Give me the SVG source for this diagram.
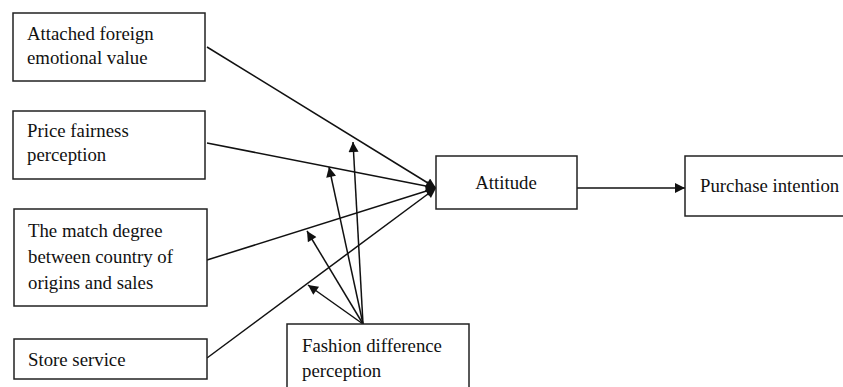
<svg xmlns="http://www.w3.org/2000/svg" width="843" height="387" viewBox="0 0 843 387">
<style>
.box{fill:#fff;stroke:#222;stroke-width:1.5}
.t{font-family:"Liberation Serif","Times New Roman",serif;font-size:18.8px;fill:#111}
.ln{stroke:#111;stroke-width:1.5;fill:none}
</style>
<defs>
<marker id="ah" viewBox="0 0 10 10" refX="10" refY="5" markerWidth="12" markerHeight="10" markerUnits="userSpaceOnUse" orient="auto">
<path d="M0,0 L10,5 L0,10 Z" fill="#111"/>
</marker>
</defs>
<rect width="843" height="387" fill="#fff"/>
<g id="connectors">
<line class="ln" x1="207" y1="47" x2="436" y2="188" marker-end="url(#ah)"/>
<line class="ln" x1="207" y1="143" x2="436" y2="188" marker-end="url(#ah)"/>
<line class="ln" x1="207" y1="260" x2="436" y2="188" marker-end="url(#ah)"/>
<line class="ln" x1="207" y1="358" x2="436" y2="188" marker-end="url(#ah)"/>
<line class="ln" x1="577" y1="188" x2="685" y2="188" marker-end="url(#ah)"/>
<line class="ln" x1="363" y1="324" x2="353" y2="142" marker-end="url(#ah)"/>
<line class="ln" x1="363" y1="324" x2="329" y2="167" marker-end="url(#ah)"/>
<line class="ln" x1="363" y1="324" x2="307" y2="231" marker-end="url(#ah)"/>
<line class="ln" x1="363" y1="324" x2="308" y2="285" marker-end="url(#ah)"/>
</g>
<g id="n1"><rect class="box" x="13" y="13" width="192" height="68"/><text class="t" x="27" y="40">Attached foreign</text><text class="t" x="27" y="64">emotional value</text></g>
<g id="n2"><rect class="box" x="13" y="111" width="192" height="68"/><text class="t" x="27" y="137">Price fairness</text><text class="t" x="27" y="161">perception</text></g>
<g id="n3"><rect class="box" x="14" y="209" width="193" height="97"/><text class="t" x="28" y="237">The match degree</text><text class="t" x="28" y="263">between country of</text><text class="t" x="28" y="289">origins and sales</text></g>
<g id="n4"><rect class="box" x="14" y="339" width="193" height="40"/><text class="t" x="28" y="366">Store service</text></g>
<g id="n5"><rect class="box" x="287" y="324" width="182" height="70"/><text class="t" x="302" y="352">Fashion difference</text><text class="t" x="302" y="377">perception</text></g>
<g id="n6"><rect class="box" x="436" y="156" width="141" height="53"/><text class="t" x="506" y="189" text-anchor="middle">Attitude</text></g>
<g id="n7"><rect class="box" x="685" y="156" width="170" height="60"/><text class="t" x="700" y="192">Purchase intention</text></g>
</svg>
